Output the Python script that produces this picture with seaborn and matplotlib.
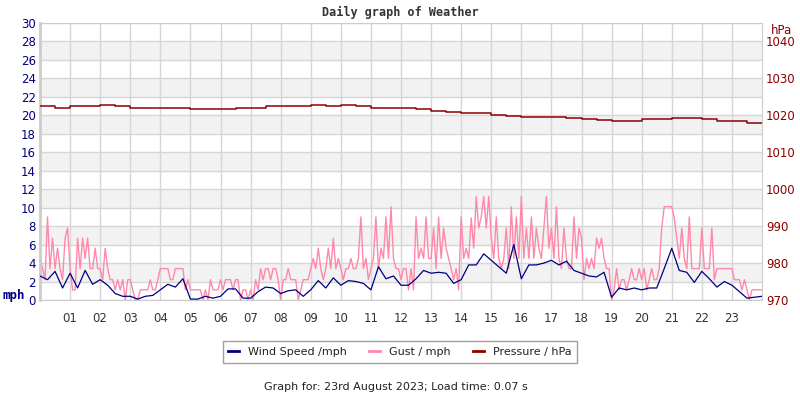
import numpy as np
import pandas as pd
import matplotlib
matplotlib.use('Agg')
import matplotlib.pyplot as plt
import seaborn as sns

# wind speed (mph), one reading every 15 minutes from 00:00 to 24:00
wind_mph = [2.6, 2.2, 3.1, 1.3, 2.9, 1.3, 3.2, 1.7,   # 00-01
            2.2, 1.6, 0.7, 0.4, 0.4, 0.1, 0.4, 0.5,   # 02-03
            1.1, 1.7, 1.4, 2.3, 0.1, 0.1, 0.4, 0.2,   # 04-05
            0.4, 1.2, 1.2, 0.2, 0.2, 0.9, 1.4, 1.3,   # 06-07
            0.7, 1.0, 1.1, 0.4, 1.1, 2.1, 1.3, 2.4,   # 08-09
            1.6, 2.1, 2.0, 1.8, 1.1, 3.6, 2.3, 2.6,   # 10-11
            1.6, 1.6, 2.3, 3.2, 2.9, 3.0, 2.9, 1.8,   # 12-13
            2.2, 3.8, 3.8, 5.0, 4.3, 3.6, 2.9, 6.0,   # 14-15
            2.3, 3.8, 3.8, 4.0, 4.3, 3.8, 4.2, 3.2,   # 16-17
            2.9, 2.6, 2.5, 3.0, 0.3, 1.3, 1.1, 1.3,   # 18-19
            1.1, 1.3, 1.3, 3.4, 5.6, 3.2, 3.0, 1.9,   # 20-21
            3.1, 2.3, 1.4, 2.0, 1.6, 0.9, 0.2, 0.3,   # 22-23
            0.4]

# gust (mph), one reading every 5 minutes, one row per hour
gust_mph = [4.5, 3.4, 2.2, 9.0, 3.4, 6.7, 3.4, 5.6, 3.4, 2.2, 6.7, 7.8,
            3.4, 1.1, 1.1, 6.7, 3.4, 6.7, 4.5, 6.7, 3.4, 3.4, 5.6, 3.4,
            3.4, 2.2, 5.6, 3.4, 2.2, 2.2, 1.1, 2.2, 1.1, 2.2, 0.0, 2.2,
            2.2, 1.1, 0.0, 0.0, 1.1, 1.1, 1.1, 1.1, 2.2, 1.1, 1.1, 2.2,
            3.4, 3.4, 3.4, 3.4, 2.2, 2.2, 3.4, 3.4, 3.4, 3.4, 1.1, 2.2,
            1.1, 1.1, 1.1, 1.1, 1.1, 0.0, 1.1, 0.0, 2.2, 1.1, 1.1, 1.1,
            2.2, 1.1, 2.2, 2.2, 2.2, 1.1, 2.2, 2.2, 0.0, 1.1, 1.1, 0.0,
            1.1, 0.0, 2.2, 1.1, 3.4, 2.2, 3.4, 3.4, 2.2, 3.4, 3.4, 2.2,
            0.0, 2.2, 2.2, 3.4, 2.2, 2.2, 2.2, 0.0, 1.1, 2.2, 2.2, 2.2,
            3.4, 4.5, 3.4, 5.6, 3.4, 2.2, 3.4, 5.6, 3.4, 6.7, 3.4, 4.5,
            3.4, 2.2, 3.4, 3.4, 4.5, 3.4, 3.4, 4.5, 9.0, 3.4, 4.5, 2.2,
            3.4, 4.5, 9.0, 3.4, 5.6, 4.5, 9.0, 4.5, 10.1, 4.5, 3.4, 3.4,
            2.2, 3.4, 3.4, 1.1, 3.4, 1.1, 9.0, 4.5, 5.6, 4.5, 9.0, 4.5,
            4.5, 7.8, 3.4, 9.0, 4.5, 7.8, 5.6, 4.5, 3.4, 2.2, 3.4, 1.1,
            9.0, 4.5, 5.6, 4.5, 8.9, 5.6, 11.2, 7.8, 9.0, 11.2, 7.8, 11.2,
            6.7, 4.5, 9.0, 4.5, 3.4, 4.5, 7.8, 3.4, 10.1, 4.5, 9.0, 4.5,
            11.2, 4.5, 7.8, 4.5, 9.0, 4.5, 7.8, 5.6, 4.5, 7.8, 11.2, 5.6,
            7.8, 4.5, 10.1, 4.5, 3.4, 7.8, 4.5, 3.4, 3.4, 9.0, 4.5, 7.8,
            6.7, 2.2, 4.5, 3.4, 4.5, 3.4, 6.7, 5.6, 6.7, 4.5, 3.4, 3.4,
            0.0, 1.1, 3.4, 1.1, 2.2, 2.2, 1.1, 2.2, 3.4, 2.2, 2.2, 3.4,
            2.2, 3.4, 1.1, 2.2, 3.4, 2.2, 2.2, 3.4, 7.8, 10.1, 10.1, 10.1,
            10.1, 8.9, 6.7, 4.5, 7.8, 4.5, 3.4, 9.0, 3.4, 3.4, 3.4, 3.4,
            7.8, 3.4, 3.4, 3.4, 7.8, 2.2, 3.4, 3.4, 3.4, 3.4, 3.4, 3.4,
            3.4, 2.2, 2.2, 2.2, 1.1, 2.2, 1.1, 0.0, 1.1, 1.1, 1.1, 1.1,
            1.1]

# pressure (hPa), one reading every 30 minutes
pressure_hpa = [1022.5, 1022.1, 1022.5, 1022.5, 1022.7, 1022.5,
                1022.1, 1022.1, 1022.1, 1022.1, 1021.8, 1021.8,
                1021.8, 1021.9, 1022.1, 1022.5, 1022.5, 1022.5,
                1022.7, 1022.5, 1022.7, 1022.4, 1022.1, 1022.1,
                1022.0, 1021.8, 1021.2, 1020.9, 1020.7, 1020.5,
                1020.2, 1019.8, 1019.6, 1019.6, 1019.6, 1019.3,
                1019.1, 1018.8, 1018.5, 1018.5, 1018.9, 1019.0,
                1019.3, 1019.3, 1019.1, 1018.6, 1018.4, 1018.0,
                1018.0]

hour_ticks = list(range(1, 24))
hour_labels = [f'{h:02d}' for h in hour_ticks]

wind_df = pd.DataFrame({'hour': np.arange(len(wind_mph)) / 4, 'mph': wind_mph})
gust_df = pd.DataFrame({'hour': np.arange(len(gust_mph)) / 12, 'mph': gust_mph})
pres_df = pd.DataFrame({'hour': np.arange(len(pressure_hpa)) / 2, 'hpa': pressure_hpa})

wind_col = '#000080'
gust_col = '#ff88aa'
pres_col = '#8b0000'
grid_col = '#d6d6d6'

plt.rcParams['font.family'] = ['DejaVu Sans']

fig = plt.figure(figsize=(8, 4), dpi=100)
ax = fig.add_axes([0.05, 0.25, 0.9025, 0.6925])

# alternating bands + grid
for lo in range(2, 30, 4):
    ax.axhspan(lo, lo + 2, color='#f2f2f2', zorder=0, lw=0)
for y in range(0, 31, 2):
    ax.axhline(y, color=grid_col, lw=1, zorder=0.5)
for x in range(1, 24):
    ax.axvline(x, color=grid_col, lw=1, zorder=0.5)

sns.lineplot(data=gust_df, x='hour', y='mph', ax=ax, color=gust_col, lw=1,
             label='Gust / mph', zorder=2)
sns.lineplot(data=wind_df, x='hour', y='mph', ax=ax, color=wind_col, lw=0.9,
             label='Wind Speed /mph', zorder=3)

ax.set_xlim(0, 24)
ax.set_ylim(0, 30)
ax.set_xticks(hour_ticks)
ax.set_xticklabels(hour_labels)
ax.set_yticks(range(0, 31, 2))
ax.tick_params(axis='x', length=0, pad=9, labelsize=8.5, labelcolor='#333333')
ax.tick_params(axis='y', length=0, pad=3, labelsize=8.5, labelcolor=wind_col)
ax.set_xlabel('')
ax.set_ylabel('')
for s in ax.spines.values():
    s.set_color('#cccccc')
ax.spines['left'].set_linewidth(2)

ax2 = ax.twinx()
sns.lineplot(data=pres_df, x='hour', y='hpa', ax=ax2, color=pres_col, lw=1.1,
             drawstyle='steps-post', label='Pressure / hPa')
ax2.set_ylim(970, 1045)
ax2.set_yticks(range(970, 1041, 10))
ax2.tick_params(axis='y', length=0, pad=3, labelsize=8.5, labelcolor=pres_col)
ax2.set_ylabel('')
for s in ax2.spines.values():
    s.set_visible(False)

h1, l1 = ax.get_legend_handles_labels()
h2, l2 = ax2.get_legend_handles_labels()
ax.get_legend().remove()
ax2.get_legend().remove()
handles = [h1[1], h1[0], h2[0]]
labels = [l1[1], l1[0], l2[0]]
leg = fig.legend(handles, labels, loc='center', bbox_to_anchor=(0.5, 0.12),
                 ncol=3, fontsize=8, frameon=True, fancybox=False,
                 edgecolor='#888888', handlelength=1.0, columnspacing=2.0,
                 borderpad=0.5)
for line in leg.get_lines():
    line.set_linewidth(2)
for t in leg.get_texts():
    t.set_color('#222222')

fig.text(0.5, 0.968, 'Daily graph of Weather', ha='center', va='center',
         fontsize=8.5, fontweight='bold', family='DejaVu Sans Mono', color='#333333')
fig.text(0.003, 0.26, 'mph', ha='left', va='center', fontsize=9,
         fontweight='bold', color=wind_col, family='DejaVu Sans Mono')
fig.text(0.963, 0.925, 'hPa', ha='left', va='center', fontsize=8.5, color=pres_col)
fig.text(0.495, 0.032, 'Graph for: 23rd August 2023; Load time: 0.07 s',
         ha='center', va='center', fontsize=8, color='#222222')

fig.savefig('out.png', dpi=100)
